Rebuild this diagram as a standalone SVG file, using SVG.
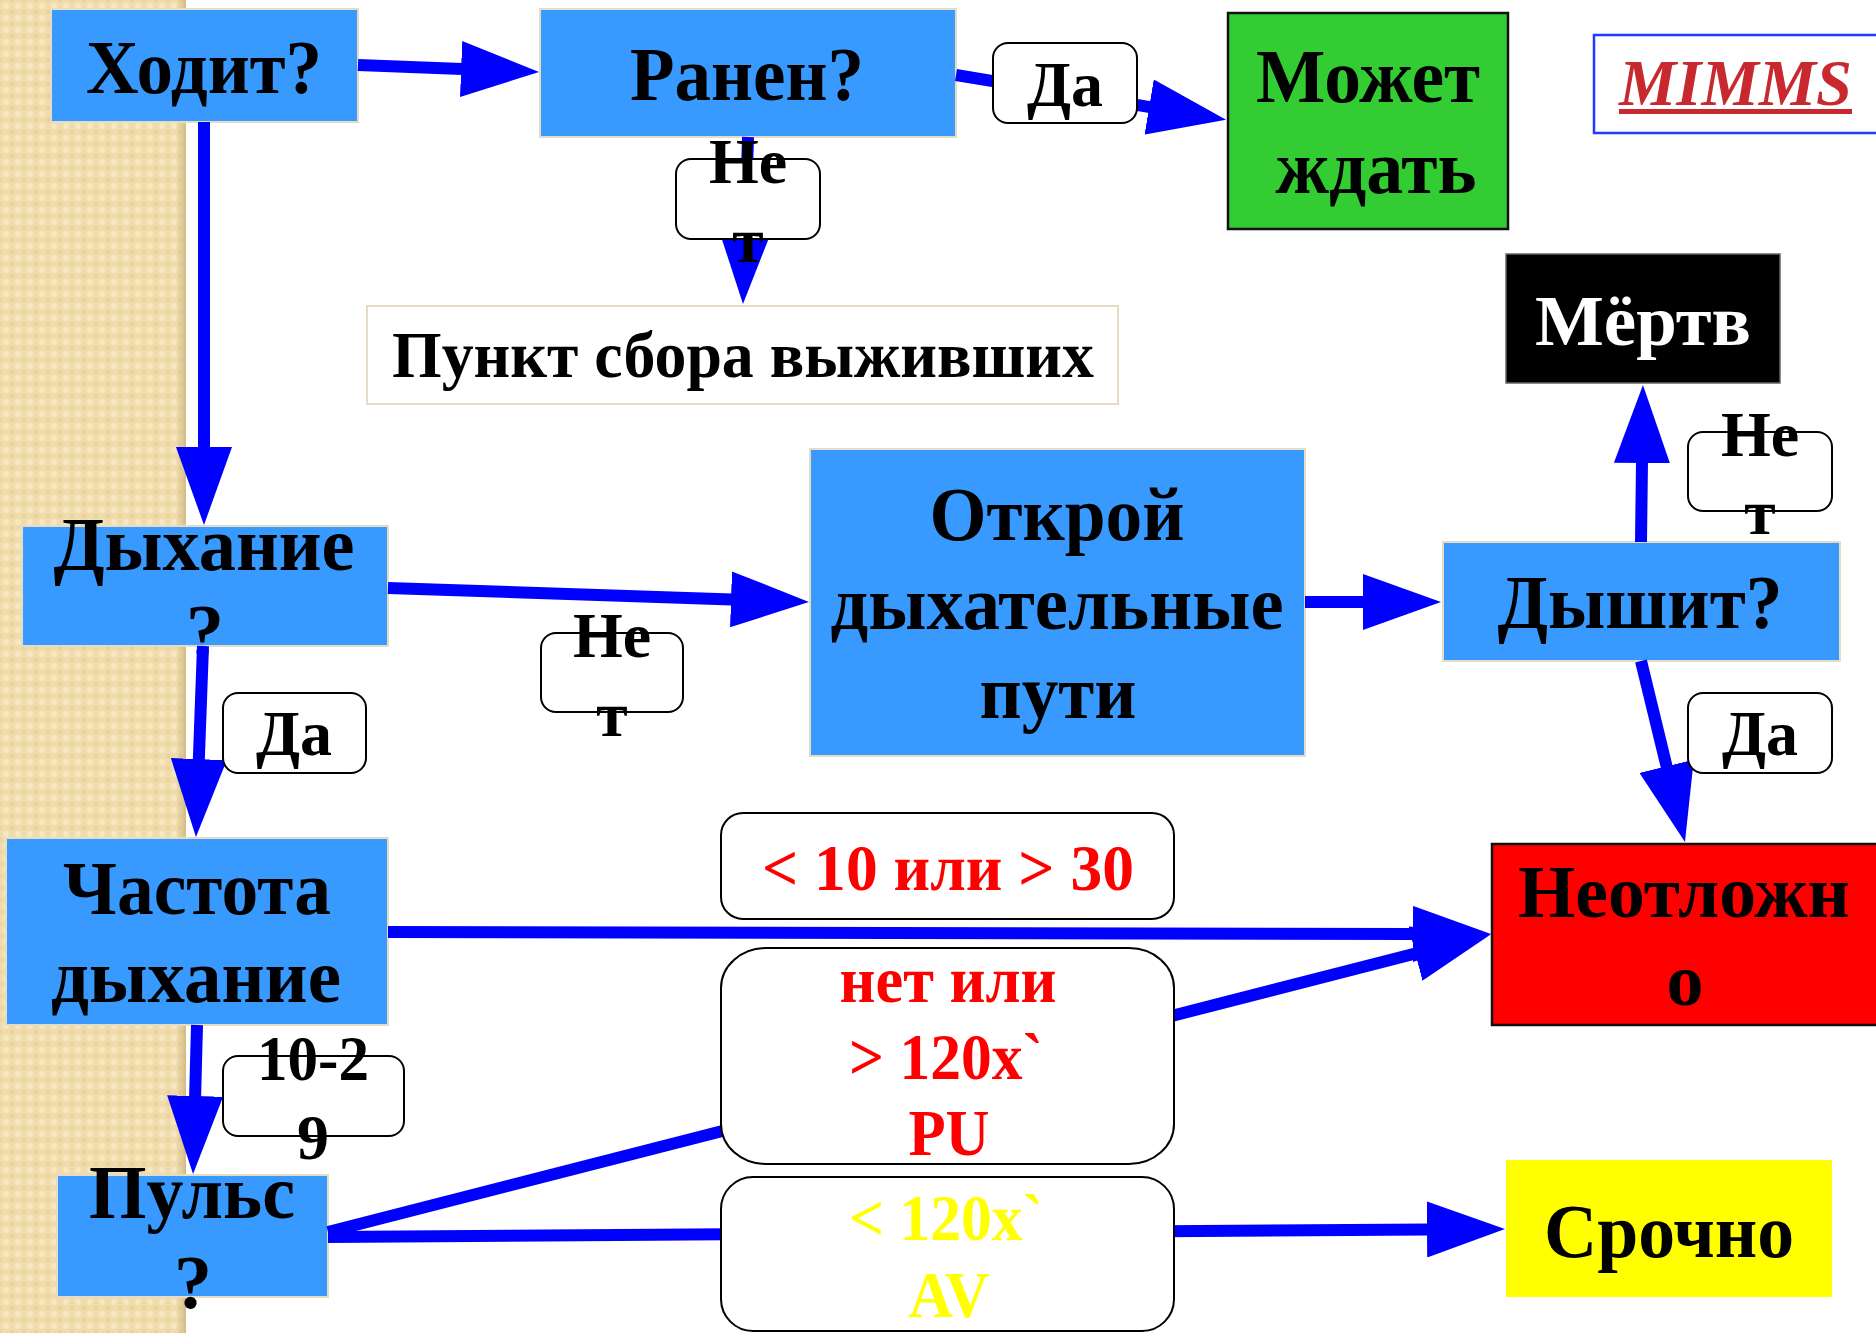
<svg xmlns="http://www.w3.org/2000/svg" width="1876" height="1333" viewBox="0 0 1876 1333">
  <defs>
    <pattern id="weave" width="12" height="12" patternUnits="userSpaceOnUse">
      <rect width="12" height="12" fill="#f0dcab"/>
      <circle cx="6" cy="6" r="3" fill="#f6e7c2"/>
      <circle cx="0" cy="0" r="2.2" fill="#e8d19c"/>
      <circle cx="12" cy="0" r="2.2" fill="#e8d19c"/>
      <circle cx="0" cy="12" r="2.2" fill="#e8d19c"/>
      <circle cx="12" cy="12" r="2.2" fill="#e8d19c"/>
    </pattern>
    <linearGradient id="stripEdge" x1="0" y1="0" x2="1" y2="0">
      <stop offset="0" stop-color="#d9c38f" stop-opacity="0"/>
      <stop offset="1" stop-color="#cdb47c" stop-opacity="0.9"/>
    </linearGradient>
    <marker id="head" markerUnits="userSpaceOnUse" viewBox="0 0 78 56" markerWidth="78" markerHeight="56" refX="1" refY="28" orient="auto">
      <path d="M0,0 L78,28 L0,56 Z" fill="#0000ff"/>
    </marker>
  </defs>
  <style>
    .t { font-family: "Liberation Serif", "Times New Roman", serif; font-weight: bold; text-anchor: middle; }
    .big { font-size: 76px; fill: #000; }
    .lbl { font-size: 64px; fill: #000; }
    .crit { font-size: 66px; }
    .box { fill: #3899ff; stroke: #e6dcc4; stroke-width: 2; }
    .tag { fill: #fff; stroke: #000; stroke-width: 2; }
    .link { fill: none; stroke: #0000ff; stroke-width: 12; marker-end: url(#head); }
  </style>

  <!-- page background -->
  <rect width="1876" height="1333" fill="#fff"/>
  <rect x="0" y="0" width="186" height="1333" fill="url(#weave)"/>
  <rect x="176" y="0" width="10" height="1333" fill="url(#stripEdge)"/>

  <!-- nodes -->
  <g id="walks">
    <rect class="box" x="51" y="9" width="307" height="113"/>
    <text class="t big" x="204" y="93" textLength="236" lengthAdjust="spacingAndGlyphs">Ходит?</text>
  </g>
  <g id="injured">
    <rect class="box" x="540" y="9" width="416" height="128"/>
    <text class="t big" x="747" y="100" textLength="234" lengthAdjust="spacingAndGlyphs">Ранен?</text>
  </g>
  <g id="can-wait">
    <rect x="1228" y="13" width="280" height="216" fill="#33cc33" stroke="#111" stroke-width="2.5"/>
    <text class="t big" x="1368" y="102" textLength="224" lengthAdjust="spacingAndGlyphs">Может</text>
    <text class="t big" x="1376" y="193" textLength="201" lengthAdjust="spacingAndGlyphs">ждать</text>
  </g>
  <g id="mimms">
    <rect x="1594" y="35" width="290" height="98" fill="#fff" stroke="#1f3dff" stroke-width="2.5"/>
    <text class="t" x="1735.5" y="105" font-size="65" font-style="italic" fill="#c8292e" textLength="233" lengthAdjust="spacingAndGlyphs">MIMMS</text>
    <rect x="1619" y="109" width="233" height="5" fill="#c8292e"/>
  </g>
  <g id="survivors-point">
    <rect x="367" y="306" width="751" height="98" fill="#fff" stroke="#e6dcc4" stroke-width="2"/>
    <text class="t" x="743" y="377" font-size="66" textLength="702" lengthAdjust="spacingAndGlyphs">Пункт сбора выживших</text>
  </g>
  <g id="dead">
    <rect x="1506" y="254" width="274" height="129" fill="#000" stroke="#666" stroke-width="1.5"/>
    <text class="t" x="1643" y="345" font-size="72" fill="#fff" textLength="216" lengthAdjust="spacingAndGlyphs">Мёртв</text>
  </g>
  <g id="open-airway">
    <rect class="box" x="810" y="449" width="495" height="307"/>
    <text class="t big" x="1057" y="540" textLength="255" lengthAdjust="spacingAndGlyphs">Открой</text>
    <text class="t big" x="1057" y="629" textLength="453" lengthAdjust="spacingAndGlyphs">дыхательные</text>
    <text class="t big" x="1058" y="718" textLength="157" lengthAdjust="spacingAndGlyphs">пути</text>
  </g>
  <g id="breathing">
    <rect class="box" x="22" y="526" width="366" height="120"/>
    <text class="t big" x="204" y="570" textLength="301" lengthAdjust="spacingAndGlyphs">Дыхание</text>
    <text class="t big" x="205" y="657">?</text>
  </g>
  <g id="breathes">
    <rect class="box" x="1443" y="542" width="397" height="119"/>
    <text class="t big" x="1640" y="628" textLength="285" lengthAdjust="spacingAndGlyphs">Дышит?</text>
  </g>
  <g id="resp-rate">
    <rect class="box" x="6" y="838" width="382" height="187"/>
    <text class="t big" x="197" y="914" textLength="268" lengthAdjust="spacingAndGlyphs">Частота</text>
    <text class="t big" x="196" y="1002" textLength="290" lengthAdjust="spacingAndGlyphs">дыхание</text>
  </g>
  <g id="immediate">
    <rect x="1492" y="844" width="390" height="181" fill="#ff0000" stroke="#111" stroke-width="2.5"/>
    <text class="t" x="1684" y="917" font-size="74" textLength="332" lengthAdjust="spacingAndGlyphs">Неотложн</text>
    <text class="t" x="1685" y="1005" font-size="74">о</text>
  </g>
  <g id="pulse">
    <rect class="box" x="57" y="1175" width="271" height="122"/>
    <text class="t big" x="192" y="1218" textLength="206" lengthAdjust="spacingAndGlyphs">Пульс</text>
    <text class="t big" x="193" y="1308">?</text>
  </g>
  <g id="urgent">
    <rect x="1506" y="1160" width="326" height="137" fill="#ffff00"/>
    <text class="t big" x="1669" y="1257" textLength="250" lengthAdjust="spacingAndGlyphs">Срочно</text>
  </g>

  <!-- connectors -->
  <g id="connectors">
    <path class="link" d="M358,65 L462.1,69"/>
    <path class="link" d="M956,75 L1150.1,107.2"/>
    <path class="link" d="M748,137 L745.3,227"/>
    <path class="link" d="M204,122 L204,448"/>
    <path class="link" d="M388,588 L732,599.4"/>
    <path class="link" d="M1305,602 L1364,602"/>
    <path class="link" d="M1641,542 L1642,462"/>
    <path class="link" d="M1641,661 L1666.8,767.2"/>
    <path class="link" d="M203,646 L198.8,760.1"/>
    <path class="link" d="M388,932 L1414,933.9"/>
    <path class="link" d="M328,1232 L1416.4,953.3"/>
    <path class="link" d="M197,1025 L195.1,1097"/>
    <path class="link" d="M328,1237 L1428,1229.5"/>
  </g>

  <!-- connector labels -->
  <g id="labels">
    <g id="lbl-injured-yes">
      <rect class="tag" x="993" y="43" width="144" height="80" rx="15"/>
      <text class="t lbl" x="1065" y="106">Да</text>
    </g>
    <g id="lbl-injured-no">
      <rect class="tag" x="676" y="159" width="144" height="80" rx="15"/>
      <text class="t lbl" x="748" y="183">Не</text>
      <text class="t lbl" x="748" y="262">т</text>
    </g>
    <g id="lbl-breathing-no">
      <rect class="tag" x="541" y="633" width="142" height="79" rx="15"/>
      <text class="t lbl" x="612" y="657">Не</text>
      <text class="t lbl" x="612" y="736">т</text>
    </g>
    <g id="lbl-breathing-yes">
      <rect class="tag" x="223" y="693" width="143" height="80" rx="15"/>
      <text class="t lbl" x="294" y="755">Да</text>
    </g>
    <g id="lbl-breathes-no">
      <rect class="tag" x="1688" y="432" width="144" height="79" rx="15"/>
      <text class="t lbl" x="1760" y="456">Не</text>
      <text class="t lbl" x="1760" y="534">т</text>
    </g>
    <g id="lbl-breathes-yes">
      <rect class="tag" x="1688" y="693" width="144" height="80" rx="15"/>
      <text class="t lbl" x="1760" y="755">Да</text>
    </g>
    <g id="lbl-rate-normal">
      <rect class="tag" x="223" y="1056" width="181" height="80" rx="15"/>
      <text class="t lbl" x="313" y="1080" textLength="112" lengthAdjust="spacingAndGlyphs">10-2</text>
      <text class="t lbl" x="313" y="1159">9</text>
    </g>
    <g id="lbl-rate-abnormal">
      <rect class="tag" x="721" y="813" width="453" height="106" rx="22"/>
      <text class="t crit" x="948" y="890" fill="#ff0000" textLength="372" lengthAdjust="spacingAndGlyphs">&lt; 10 или &gt; 30</text>
    </g>
    <g id="lbl-pulse-high">
      <rect class="tag" x="721" y="948" width="453" height="216" rx="45" ry="40"/>
      <text class="t crit" x="948" y="1002" fill="#ff0000" textLength="217" lengthAdjust="spacingAndGlyphs">нет или</text>
      <text class="t crit" x="946" y="1079" fill="#ff0000" textLength="194" lengthAdjust="spacingAndGlyphs">&gt; 120x`</text>
      <text class="t crit" x="949" y="1155" fill="#ff0000" textLength="81" lengthAdjust="spacingAndGlyphs">PU</text>
    </g>
    <g id="lbl-pulse-low">
      <rect class="tag" x="721" y="1177" width="453" height="154" rx="32"/>
      <text class="t crit" x="946" y="1240" fill="#ffff00" textLength="194" lengthAdjust="spacingAndGlyphs">&lt; 120x`</text>
      <text class="t crit" x="949" y="1317" fill="#ffff00" textLength="81" lengthAdjust="spacingAndGlyphs">AV</text>
    </g>
  </g>
</svg>
